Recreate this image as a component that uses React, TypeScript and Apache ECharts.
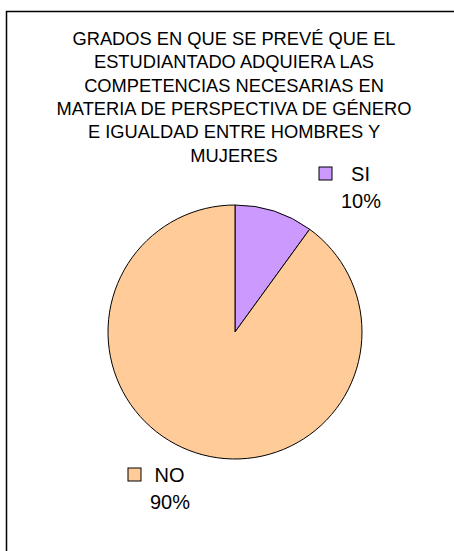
import React, { useEffect, useRef } from "react";
import * as echarts from "echarts";

const titleLines = [
  "GRADOS EN QUE SE PREVÉ QUE EL",
  "ESTUDIANTADO ADQUIERA LAS",
  "COMPETENCIAS NECESARIAS EN",
  "MATERIA DE PERSPECTIVA DE GÉNERO",
  "E IGUALDAD ENTRE HOMBRES Y",
  "MUJERES",
];
const categories = ["SI", "NO"];
const values = [10, 90];
const colors = ["#CC99FF", "#FFCC99"];
// label anchor positions (layout only)
const labelAnchors = [
  [351, 187],
  [160, 488],
];

export default function App() {
  const ref = useRef<HTMLDivElement>(null);
  useEffect(() => {
    if (!ref.current) return;
    const chart = echarts.init(ref.current, undefined, { renderer: "svg" });
    const font = "Liberation Sans, Arial, sans-serif";
    const rich: any = {
      gap: { width: 7, height: 13 },
      sp: { width: 20, height: 13 },
      t: { width: 44, align: "center", fontSize: 20, fontFamily: font, color: "#000", lineHeight: 27 },
    };
    categories.forEach((c, i) => {
      rich["sq" + i] = {
        width: 12,
        height: 12,
        backgroundColor: colors[i],
        borderColor: "#000",
        borderWidth: 1,
      };
    });
    chart.setOption({
      animation: false,
      backgroundColor: "#fff",
      title: {
        text: titleLines.join("\n"),
        left: 234,
        top: 27,
        padding: 0,
        textAlign: "center",
        textStyle: {
          fontFamily: font,
          fontSize: 18.3,
          fontWeight: "normal",
          color: "#000",
          lineHeight: 23.3,
        },
      },
      graphic: [
        {
          type: "rect",
          shape: { x: 6.5, y: 11.5, width: 470, height: 560 },
          style: { fill: "none", stroke: "#000", lineWidth: 1.5 },
          silent: true,
        },
      ],
      series: [
        {
          type: "pie",
          center: [235, 332],
          radius: 127,
          startAngle: 90,
          clockwise: true,
          avoidLabelOverlap: false,
          itemStyle: { borderColor: "#000", borderWidth: 1 },
          labelLine: { show: false },
          label: {
            show: true,
            position: "outside",
            fontFamily: font,
            fontSize: 20,
            lineHeight: 27,
            color: "#000",
            formatter: (p: any) =>
              `{sq${p.dataIndex}|}{gap|}{t|${p.name}}\n{sp|}{t|${Math.round(p.percent)}%}`,
            rich,
          },
          labelLayout: (p: any) => ({
            x: labelAnchors[p.dataIndex][0],
            y: labelAnchors[p.dataIndex][1],
            align: "center",
            verticalAlign: "middle",
          }),
          data: categories.map((c, i) => ({
            name: c,
            value: values[i],
            itemStyle: { color: colors[i] },
          })),
        },
      ],
    });
    return () => chart.dispose();
  }, []);
  return (
    <div
      ref={ref}
      style={{ position: "fixed", left: 0, top: 0, width: 454, height: 551 }}
    />
  );
}
